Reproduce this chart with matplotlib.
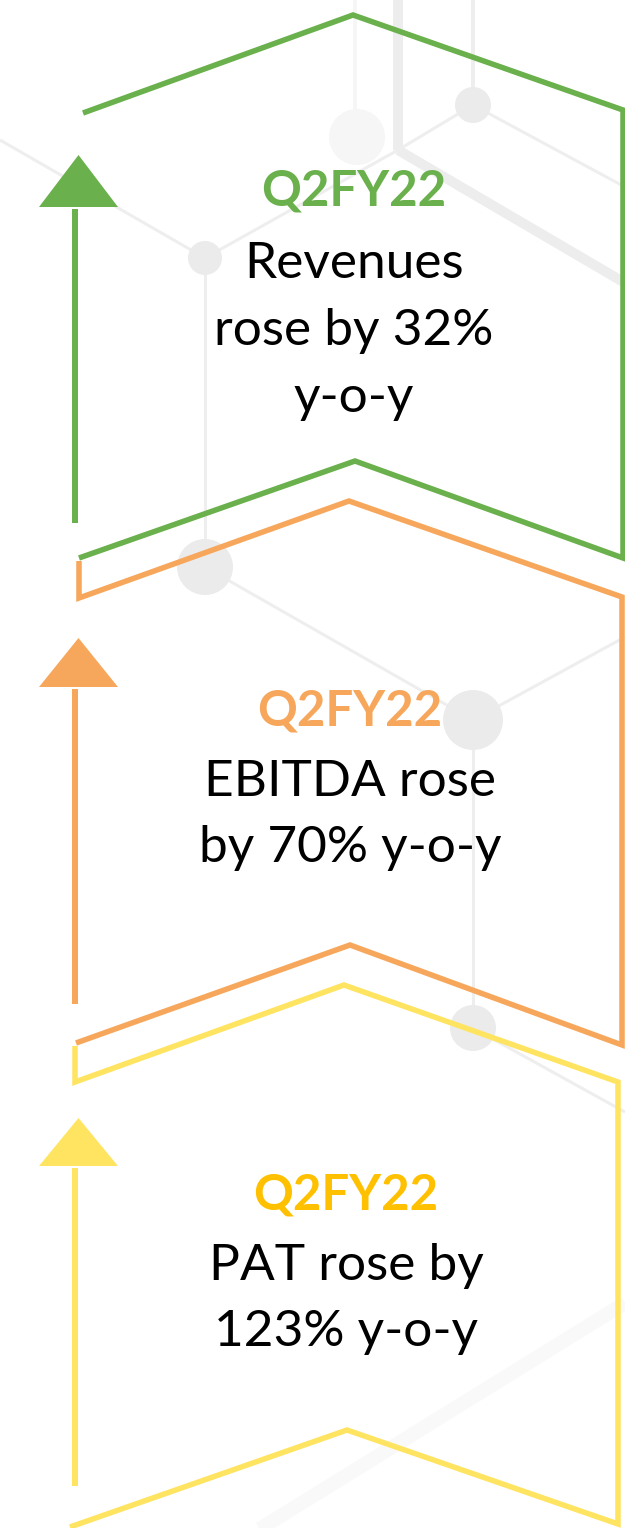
import matplotlib
matplotlib.use("Agg")
import matplotlib.pyplot as plt
from matplotlib.patches import Circle, Polygon

# chart content
metrics = ["Revenues", "EBITDA", "PAT"]
growth_pct = [32, 70, 123]
period = "Q2FY22"
body_lines = [
    ["Revenues", "rose by 32%", "y-o-y"],
    ["EBITDA rose", "by 70% y-o-y"],
    ["PAT rose by", "123% y-o-y"],
]
line_colors = ["#6AB04C", "#F7A75B", "#FFE462"]
title_colors = ["#6AB04C", "#F7A75B", "#FFC000"]

# layout (pixel units, y grows downward)
W, H = 625, 1528
outlines = [
    [(83, 113), (353, 15), (623, 110), (623, 558), (355, 461), (79, 558)],
    [(79, 561), (79, 598), (349, 501), (622, 597), (622, 1045), (350, 945), (76, 1043)],
    [(75, 1046), (75, 1082), (344, 985), (618, 1082), (618, 1524), (347, 1430), (70, 1527)],
]
arrows = [  # shaft bottom, head base, tip
    (523, 207, 155),
    (1004, 687, 638),
    (1486, 1166, 1118),
]
text_x = [354, 350, 346]
baselines = [
    [206, 278, 345, 412],
    [725, 796, 862],
    [1210, 1280, 1346],
]

bg_lines = [
    ((398, 0), (398, 150), 10, "#EDEDED"),
    ((398, 150), (625, 283), 10, "#EDEDED"),
    ((355, 0), (355, 137), 4, "#F6F6F6"),
    ((0, 140), (205, 258), 3, "#EEEEEE"),
    ((205, 258), (398, 150), 3, "#EEEEEE"),
    ((398, 150), (473, 105), 3, "#EEEEEE"),
    ((473, 0), (473, 105), 4, "#EEEEEE"),
    ((473, 105), (625, 187), 3, "#EEEEEE"),
    ((205, 258), (205, 567), 3, "#EEEEEE"),
    ((205, 567), (473, 720), 3, "#EEEEEE"),
    ((473, 720), (625, 637), 3, "#EEEEEE"),
    ((473, 720), (473, 1028), 3, "#EEEEEE"),
    ((473, 1028), (625, 1112), 3, "#EEEEEE"),
    ((250, 1535), (625, 1303), 14, "#F9F9F9"),
]
bg_circles = [
    ((357, 137), 28, "#F6F6F6"),
    ((473, 105), 18, "#ECEBEC"),
    ((205, 258), 17, "#ECEBEC"),
    ((205, 567), 28, "#ECEBEC"),
    ((473, 720), 30, "#ECEBEC"),
    ((473, 1028), 23, "#ECEBEC"),
]

PT = 0.72  # points per pixel at dpi 100

fig = plt.figure(figsize=(6.25, 15.28), dpi=100)
ax = fig.add_axes([0, 0, 1, 1])
ax.set_xlim(0, W)
ax.set_ylim(H, 0)
ax.axis("off")

# background network
for (x0, y0), (x1, y1), w, c in bg_lines:
    ax.plot([x0, x1], [y0, y1], color=c, lw=w * PT, solid_capstyle="butt", zorder=1)
for (cx, cy), r, c in bg_circles:
    ax.add_patch(Circle((cx, cy), r, color=c, lw=0, zorder=2))

# chevrons, arrows and text
for i in range(len(metrics)):
    col = line_colors[i]
    xs, ys = zip(*outlines[i])
    ax.plot(xs, ys, color=col, lw=5.5 * PT, solid_joinstyle="miter",
            solid_capstyle="butt", zorder=3)

    bottom, base, tip = arrows[i]
    ax.plot([75, 75], [bottom, base + 2], color=col, lw=6 * PT,
            solid_capstyle="butt", zorder=3)
    ax.add_patch(Polygon([(39, base), (118, base), (78.5, tip)], closed=True,
                         color=col, lw=0, zorder=3))

    ax.text(text_x[i], baselines[i][0], period, color=title_colors[i],
            fontsize=35.5, fontweight="bold", family="Lato",
            ha="center", va="baseline", zorder=4)
    for line, yb in zip(body_lines[i], baselines[i][1:]):
        ax.text(text_x[i], yb, line, color="black", fontsize=37,
                family="Lato", ha="center", va="baseline", zorder=4)

fig.savefig("out.png", dpi=100)
